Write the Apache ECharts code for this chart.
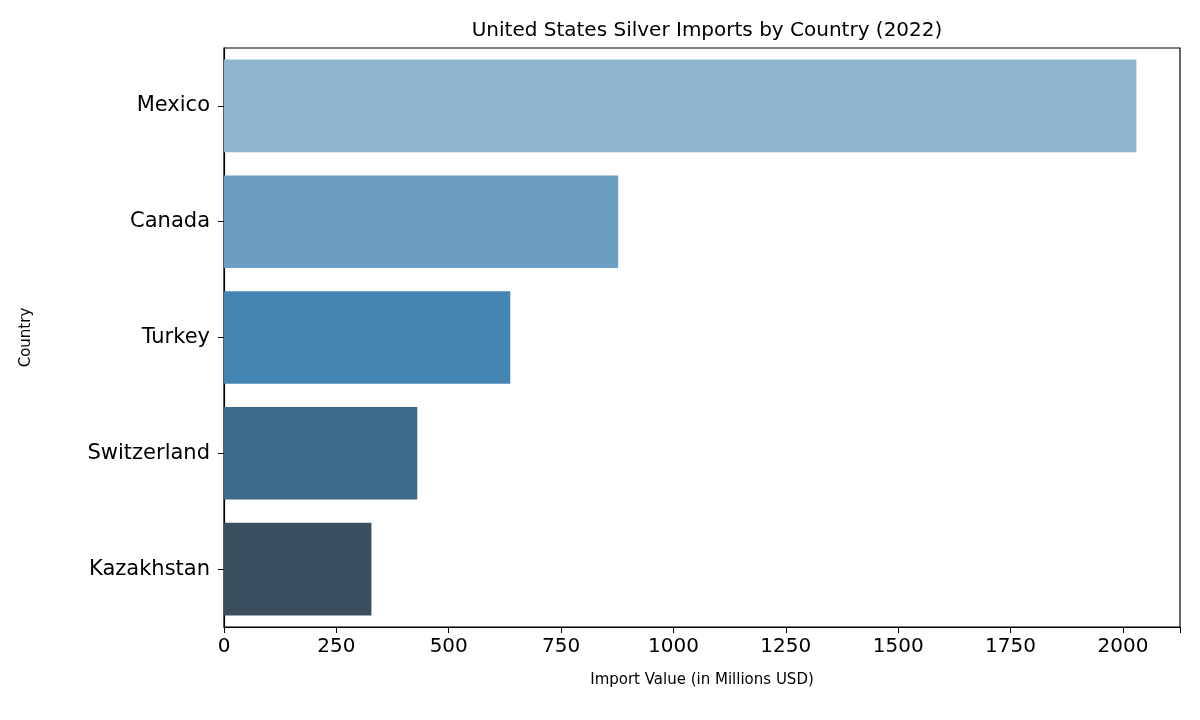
<!DOCTYPE html>
<html><head><meta charset="utf-8">
<script src="https://cdn.jsdelivr.net/npm/echarts@6/dist/echarts.min.js"></script>
<style>html,body{margin:0;padding:0;background:#fff}#c{width:1200px;height:720px}</style>
</head><body><div id="c"></div>
<script>
const categories = ["Mexico","Canada","Turkey","Switzerland","Kazakhstan"];
const values = [2030, 877, 637, 430, 328];
const colors = ["#90b5d1","#6a9ec2","#4585b3","#3e6a8a","#3a4e5e"];
const xTicks = [0,250,500,750,1000,1250,1500,1750,2000];
const chart = echarts.init(document.getElementById('c'));
const font = "DejaVu Sans";
chart.setOption({
  animation:false,
  title:{text:"United States Silver Imports by Country (2022)",left:702,top:16,textAlign:'center',
    textStyle:{fontFamily:font,fontSize:20,fontWeight:'normal',color:'#000'}},
  grid:{left:224,right:20,top:48,bottom:93,show:true,borderColor:'#000',borderWidth:1.2},
  xAxis:{type:'value',min:0,max:2127,interval:250,
    name:"Import Value (in Millions USD)",nameLocation:'middle',nameGap:46,
    nameTextStyle:{fontFamily:font,fontSize:15,color:'#000'},
    axisLine:{show:true,lineStyle:{color:'#000',width:1.2}},
    axisTick:{show:true,length:6,lineStyle:{color:'#000'}},
    axisLabel:{fontFamily:font,fontSize:20,color:'#000',margin:10,
      formatter:v=>xTicks.includes(v)?String(v):''},
    splitLine:{show:false}},
  yAxis:{type:'category',data:categories,inverse:true,
    name:"Country",nameLocation:'middle',nameGap:190,
    nameTextStyle:{fontFamily:font,fontSize:15,color:'#000'},
    axisLine:{show:true,lineStyle:{color:'#000',width:1.2}},
    axisTick:{show:true,alignWithLabel:true,length:6,lineStyle:{color:'#000'}},
    axisLabel:{fontFamily:font,fontSize:21,color:'#000',margin:14}},
  series:[{type:'bar',barCategoryGap:'20%',
    data:values.map((v,i)=>({value:v,itemStyle:{color:colors[i]}}))}]
});
</script></body></html>
